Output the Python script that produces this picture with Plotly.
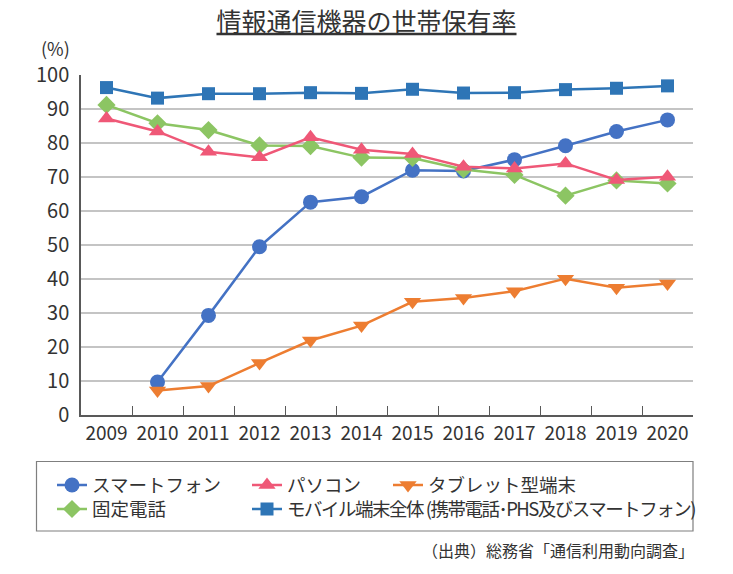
import plotly.graph_objects as go

years = ["2009", "2010", "2011", "2012", "2013", "2014", "2015", "2016", "2017", "2018", "2019", "2020"]

smartphone = [None, 9.7, 29.3, 49.5, 62.6, 64.2, 72.0, 71.8, 75.1, 79.2, 83.4, 86.8]
pc = [87.2, 83.4, 77.4, 75.8, 81.7, 78.0, 76.8, 73.0, 72.5, 74.0, 69.1, 70.1]
tablet = [None, 7.2, 8.5, 15.3, 21.9, 26.3, 33.3, 34.4, 36.4, 40.1, 37.4, 38.7]
fixed_phone = [91.2, 85.8, 83.8, 79.3, 79.1, 75.7, 75.6, 72.2, 70.6, 64.5, 69.0, 68.1]
mobile_total = [96.3, 93.2, 94.5, 94.5, 94.8, 94.6, 95.8, 94.7, 94.8, 95.7, 96.1, 96.8]

names = {
    "smartphone": "スマートフォン",
    "pc": "パソコン",
    "tablet": "タブレット型端末",
    "fixed": "固定電話",
    "mobile": "<span style='letter-spacing:-1.5px'>モバイル端末全体 (携帯電話･PHS及びスマートフォン)</span>",
}

FONT = "Noto Sans CJK JP"
TXT = "#333333"

fig = go.Figure()

fig.add_trace(go.Scatter(
    x=years, y=smartphone, name=names["smartphone"], mode="lines+markers",
    line=dict(color="#4472C4", width=2.5),
    marker=dict(symbol="circle", size=15, color="#4472C4"),
    legend="legend", showlegend=True,
))
fig.add_trace(go.Scatter(
    x=years, y=fixed_phone, name=names["fixed"], mode="lines+markers",
    line=dict(color="#8CC563", width=2.5),
    marker=dict(symbol="diamond", size=14, color="#8CC563"),
    legend="legend4", showlegend=True,
))
fig.add_trace(go.Scatter(
    x=years, y=pc, name=names["pc"], mode="lines+markers",
    line=dict(color="#EF5877", width=2.5),
    marker=dict(symbol="triangle-up", size=15, color="#EF5877"),
    legend="legend2", showlegend=True,
))
fig.add_trace(go.Scatter(
    x=years, y=tablet, name=names["tablet"], mode="lines+markers",
    line=dict(color="#ED7D31", width=2.5),
    marker=dict(symbol="triangle-down", size=15, color="#ED7D31"),
    legend="legend3", showlegend=True,
))
fig.add_trace(go.Scatter(
    x=years, y=mobile_total, name=names["mobile"], mode="lines+markers",
    line=dict(color="#2E75B6", width=2.5),
    marker=dict(symbol="square", size=13, color="#2E75B6"),
    legend="legend5", showlegend=True,
))

leg_common = dict(
    orientation="v", xanchor="left", yanchor="middle",
    font=dict(family=FONT, size=18.5, color=TXT),
    bgcolor="rgba(0,0,0,0)", borderwidth=0, tracegroupgap=0,
)

def px_x(p):
    return (p - 81) / 612

def px_y(p):
    return (415 - p) / 340

ROW1, ROW2 = 485.5, 509.5

fig.update_layout(
    width=733, height=574,
    showlegend=True,
    margin=dict(l=81, r=40, t=75, b=159, autoexpand=False),
    paper_bgcolor="white", plot_bgcolor="white",
    font=dict(family=FONT, color=TXT),
    title=dict(
        text="情報通信機器の世帯保有率",
        x=0.5, xanchor="center", xref="container",
        y=1 - 22 / 574, yanchor="middle", yref="container",
        font=dict(family=FONT, size=25, color="#333333", lineposition="under"),
    ),
    xaxis=dict(
        type="category", categoryorder="array", categoryarray=years,
        range=[-0.5, len(years) - 0.5],
        tickson="boundaries", ticks="inside", ticklen=9, tickwidth=1.2, tickcolor="#595959",
        showline=True, linecolor="#595959", linewidth=1.5,
        showgrid=False, zeroline=False, tickangle=0,
        tickfont=dict(family=FONT, size=19, color=TXT),
        fixedrange=True,
    ),
    yaxis=dict(
        range=[0, 100], dtick=10, tick0=0,
        showline=True, linecolor="#595959", linewidth=1.5,
        showgrid=True, gridcolor="#C4C4C4", gridwidth=1.8,
        zeroline=False, ticks="",
        tickfont=dict(family=FONT, size=20, color=TXT),
        ticklabelstandoff=6,
        fixedrange=True,
    ),
    legend=dict(x=px_x(52), y=px_y(ROW1), **leg_common),
    legend2=dict(x=px_x(247), y=px_y(ROW1), **leg_common),
    legend3=dict(x=px_x(388), y=px_y(ROW1), **leg_common),
    legend4=dict(x=px_x(52), y=px_y(ROW2), **leg_common),
    legend5=dict(x=px_x(247), y=px_y(ROW2), **leg_common),
    shapes=[
        dict(type="rect", xref="paper", yref="paper",
             x0=px_x(36.5), x1=px_x(693),
             y0=px_y(531), y1=px_y(461.5),
             line=dict(color="#7F7F7F", width=1.2), fillcolor="rgba(0,0,0,0)", layer="below"),
    ],
    annotations=[
        dict(text="(%)", xref="paper", yref="paper",
             x=px_x(55), y=px_y(47.5), xanchor="center", yanchor="middle",
             showarrow=False, font=dict(family=FONT, size=18, color=TXT)),
        dict(text="（出典）総務省「通信利用動向調査」", xref="paper", yref="paper",
             x=px_x(696), y=px_y(550), xanchor="right", yanchor="middle",
             showarrow=False, font=dict(family=FONT, size=16, color=TXT)),
    ],
)

fig.write_html(
    "out.html",
    config={"displayModeBar": False},
    post_script="document.body.style.margin='0';document.body.style.overflow='hidden';",
)
